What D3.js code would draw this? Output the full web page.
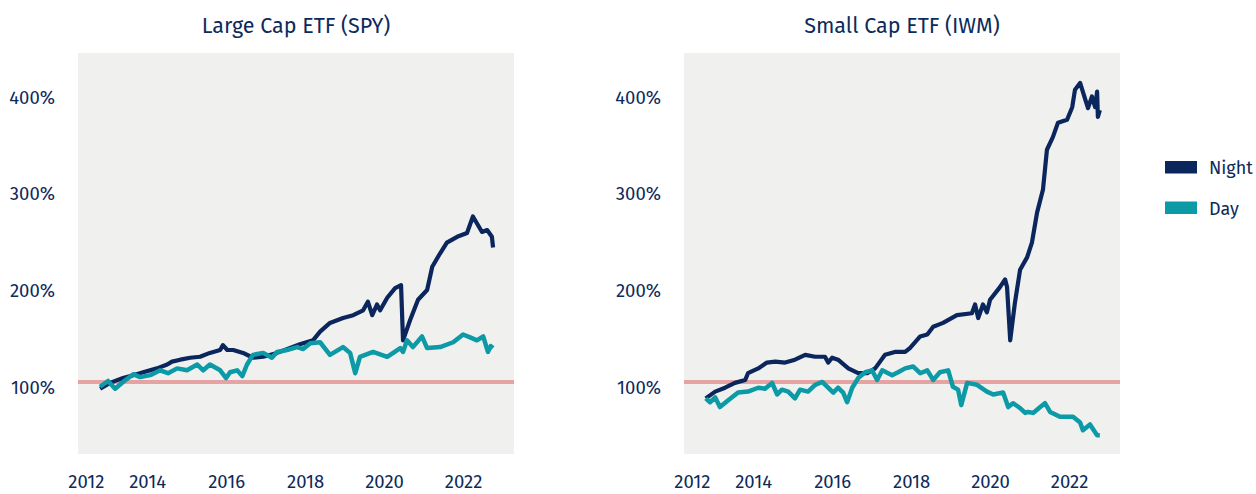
<!DOCTYPE html>
<html>
<head>
<meta charset="utf-8">
<script src="https://cdn.jsdelivr.net/npm/d3@7"></script>
<style>
  body { margin: 0; background: #ffffff; }
  svg text { font-family: "Fira Sans", "Noto Sans", sans-serif; fill: #0d2a5c; }
</style>
</head>
<body>
<svg id="chart" width="1256" height="494"></svg>
<script>
// Cumulative return, Night vs Day (t = fractional year, v = 1.00 -> 100%)
const spyNightT = [2012.81, 2013.06, 2013.39, 2013.65, 2013.90, 2014.25, 2014.51, 2014.63, 2014.84, 2015.09, 2015.34, 2015.59, 2015.85, 2015.92, 2016.03, 2016.18, 2016.43, 2016.68, 2016.94, 2017.29, 2017.62, 2017.87, 2018.20, 2018.38, 2018.63, 2018.96, 2019.22, 2019.47, 2019.59, 2019.70, 2019.82, 2019.90, 2020.08, 2020.28, 2020.43, 2020.48, 2020.66, 2020.86, 2021.09, 2021.22, 2021.42, 2021.59, 2021.85, 2022.10, 2022.25, 2022.35, 2022.48, 2022.61, 2022.73, 2022.76];
const spyNightV = [0.93, 0.99, 1.04, 1.07, 1.10, 1.14, 1.18, 1.21, 1.23, 1.25, 1.26, 1.30, 1.33, 1.38, 1.33, 1.33, 1.30, 1.25, 1.26, 1.30, 1.35, 1.39, 1.43, 1.52, 1.61, 1.66, 1.69, 1.74, 1.83, 1.69, 1.80, 1.74, 1.87, 1.97, 2.00, 1.43, 1.64, 1.85, 1.95, 2.19, 2.33, 2.44, 2.50, 2.54, 2.71, 2.64, 2.55, 2.57, 2.50, 2.39];

const spyDayT = [2012.81, 2013.01, 2013.19, 2013.39, 2013.65, 2013.82, 2014.08, 2014.33, 2014.53, 2014.76, 2015.01, 2015.27, 2015.42, 2015.59, 2015.85, 2016.00, 2016.10, 2016.28, 2016.41, 2016.53, 2016.68, 2016.94, 2017.16, 2017.29, 2017.54, 2017.80, 2017.95, 2018.13, 2018.38, 2018.63, 2018.96, 2019.14, 2019.27, 2019.39, 2019.72, 2020.08, 2020.41, 2020.48, 2020.58, 2020.73, 2020.96, 2021.09, 2021.42, 2021.75, 2022.00, 2022.18, 2022.35, 2022.51, 2022.63, 2022.70, 2022.76];
const spyDayV = [0.95, 1.01, 0.93, 1.00, 1.08, 1.05, 1.07, 1.12, 1.09, 1.14, 1.12, 1.18, 1.12, 1.18, 1.12, 1.04, 1.10, 1.12, 1.06, 1.18, 1.28, 1.30, 1.25, 1.31, 1.33, 1.36, 1.34, 1.40, 1.41, 1.28, 1.36, 1.30, 1.09, 1.26, 1.31, 1.26, 1.35, 1.31, 1.43, 1.36, 1.47, 1.35, 1.36, 1.41, 1.49, 1.46, 1.43, 1.47, 1.31, 1.37, 1.35];

const iwmNightT = [2012.80, 2013.04, 2013.29, 2013.54, 2013.80, 2013.87, 2014.13, 2014.35, 2014.56, 2014.81, 2015.06, 2015.32, 2015.57, 2015.82, 2015.90, 2016.00, 2016.15, 2016.41, 2016.66, 2016.89, 2017.09, 2017.34, 2017.59, 2017.85, 2017.97, 2018.23, 2018.41, 2018.56, 2018.81, 2019.16, 2019.54, 2019.62, 2019.70, 2019.82, 2019.92, 2020.00, 2020.25, 2020.38, 2020.43, 2020.51, 2020.63, 2020.76, 2020.94, 2021.06, 2021.19, 2021.34, 2021.44, 2021.59, 2021.72, 2021.95, 2022.08, 2022.15, 2022.28, 2022.41, 2022.48, 2022.58, 2022.66, 2022.71, 2022.73, 2022.78];
const iwmNightV = [0.83, 0.90, 0.94, 0.99, 1.02, 1.09, 1.14, 1.20, 1.21, 1.20, 1.23, 1.28, 1.26, 1.26, 1.20, 1.25, 1.23, 1.14, 1.09, 1.09, 1.14, 1.28, 1.31, 1.31, 1.35, 1.47, 1.49, 1.57, 1.61, 1.69, 1.71, 1.80, 1.66, 1.80, 1.72, 1.85, 1.98, 2.06, 1.98, 1.43, 1.82, 2.16, 2.29, 2.44, 2.75, 2.99, 3.40, 3.53, 3.68, 3.71, 3.84, 4.02, 4.09, 3.92, 3.83, 3.95, 3.84, 4.00, 3.74, 3.81];

const iwmDayT = [2012.80, 2012.91, 2013.04, 2013.16, 2013.37, 2013.62, 2013.87, 2014.13, 2014.30, 2014.48, 2014.61, 2014.73, 2014.89, 2015.06, 2015.19, 2015.39, 2015.57, 2015.75, 2015.90, 2016.03, 2016.15, 2016.28, 2016.38, 2016.51, 2016.66, 2016.84, 2017.01, 2017.14, 2017.27, 2017.52, 2017.67, 2017.85, 2018.05, 2018.23, 2018.41, 2018.56, 2018.73, 2018.94, 2019.06, 2019.19, 2019.27, 2019.42, 2019.67, 2019.92, 2020.08, 2020.33, 2020.46, 2020.58, 2020.76, 2020.89, 2020.96, 2021.09, 2021.27, 2021.39, 2021.52, 2021.77, 2022.10, 2022.28, 2022.35, 2022.53, 2022.71, 2022.78];
const iwmDayV = [0.83, 0.79, 0.84, 0.74, 0.81, 0.89, 0.90, 0.94, 0.93, 0.99, 0.87, 0.92, 0.90, 0.83, 0.92, 0.90, 0.97, 1.00, 0.94, 0.89, 0.94, 0.89, 0.79, 0.94, 1.04, 1.10, 1.12, 1.02, 1.12, 1.07, 1.10, 1.14, 1.16, 1.09, 1.12, 1.02, 1.10, 1.12, 0.95, 0.92, 0.76, 0.99, 0.97, 0.90, 0.87, 0.89, 0.74, 0.78, 0.73, 0.68, 0.69, 0.68, 0.74, 0.78, 0.69, 0.64, 0.64, 0.58, 0.50, 0.56, 0.45, 0.45];

const panelTitles = ["Large Cap ETF (SPY)", "Small Cap ETF (IWM)"];
const seriesNames = ["Night", "Day"];
const yTicks = [1, 2, 3, 4];
const xTicks = [2012.45, 2014, 2016, 2018, 2020, 2022];
const baseline = 1;

const colors = { Night: "#0b265c", Day: "#0b9aa6" };

const svg = d3.select("#chart");
const plotW = 436, plotH = 401, plotTop = 53;

const x = d3.scaleLinear().domain([2012.25, 2023.29]).range([0, plotW]);
const y = d3.scaleLinear().domain([0.255, 4.40]).range([plotH, 0]);

const zip = (ts, vs) => ts.map((t, i) => ({ t, v: vs[i] }));

const line = d3.line()
    .x(d => x(d.t))
    .y(d => y(d.v));

function drawPanel(left, title, night, day) {
    const g = svg.append("g").attr("transform", `translate(${left},${plotTop})`);

    g.append("rect")
        .attr("width", plotW)
        .attr("height", plotH)
        .attr("fill", "#f0f0ef");

    g.append("text")
        .attr("x", plotW / 2)
        .attr("y", -20)
        .attr("text-anchor", "middle")
        .attr("font-size", "21.5px")
        .text(title);

    // y axis, labels only
    const ya = g.append("g").call(d3.axisLeft(y)
        .tickValues(yTicks)
        .tickSize(0)
        .tickPadding(23)
        .tickFormat(d3.format(".0%")));
    ya.select(".domain").remove();
    ya.attr("font-family", null);
    ya.selectAll("text")
        .attr("dy", "0.62em")
        .style("font-size", "18.5px")
        .attr("fill", null);

    // x axis, labels only
    const xa = g.append("g")
        .attr("transform", `translate(0,${plotH})`)
        .call(d3.axisBottom(x)
            .tickValues(xTicks)
            .tickSize(0)
            .tickPadding(21)
            .tickFormat(d => String(Math.floor(d))));
    xa.select(".domain").remove();
    xa.attr("font-family", null);
    xa.selectAll("text")
        .style("font-size", "18.5px")
        .attr("fill", null);

    // 100% reference line
    g.append("line")
        .attr("x1", 0)
        .attr("x2", plotW)
        .attr("y1", y(baseline))
        .attr("y2", y(baseline))
        .attr("stroke", "#e6a3a3")
        .attr("stroke-width", 4);

    g.append("path")
        .datum(night)
        .attr("d", line)
        .attr("fill", "none")
        .attr("stroke", colors.Night)
        .attr("stroke-width", 4.2)
        .attr("stroke-linejoin", "round");

    g.append("path")
        .datum(day)
        .attr("d", line)
        .attr("fill", "none")
        .attr("stroke", colors.Day)
        .attr("stroke-width", 4.5)
        .attr("stroke-linejoin", "round");
}

drawPanel(78, panelTitles[0], zip(spyNightT, spyNightV), zip(spyDayT, spyDayV));
drawPanel(684, panelTitles[1], zip(iwmNightT, iwmNightV), zip(iwmDayT, iwmDayV));

// legend
const legend = svg.append("g").attr("transform", "translate(1165,161)");
seriesNames.forEach((name, i) => {
    const row = legend.append("g").attr("transform", `translate(0,${i * 40.5})`);
    row.append("rect")
        .attr("width", 32)
        .attr("height", 12.5)
        .attr("fill", colors[name]);
    row.append("text")
        .attr("x", 44)
        .attr("y", 13)
        .attr("font-size", "18px")
        .text(name);
});
</script>
</body>
</html>
